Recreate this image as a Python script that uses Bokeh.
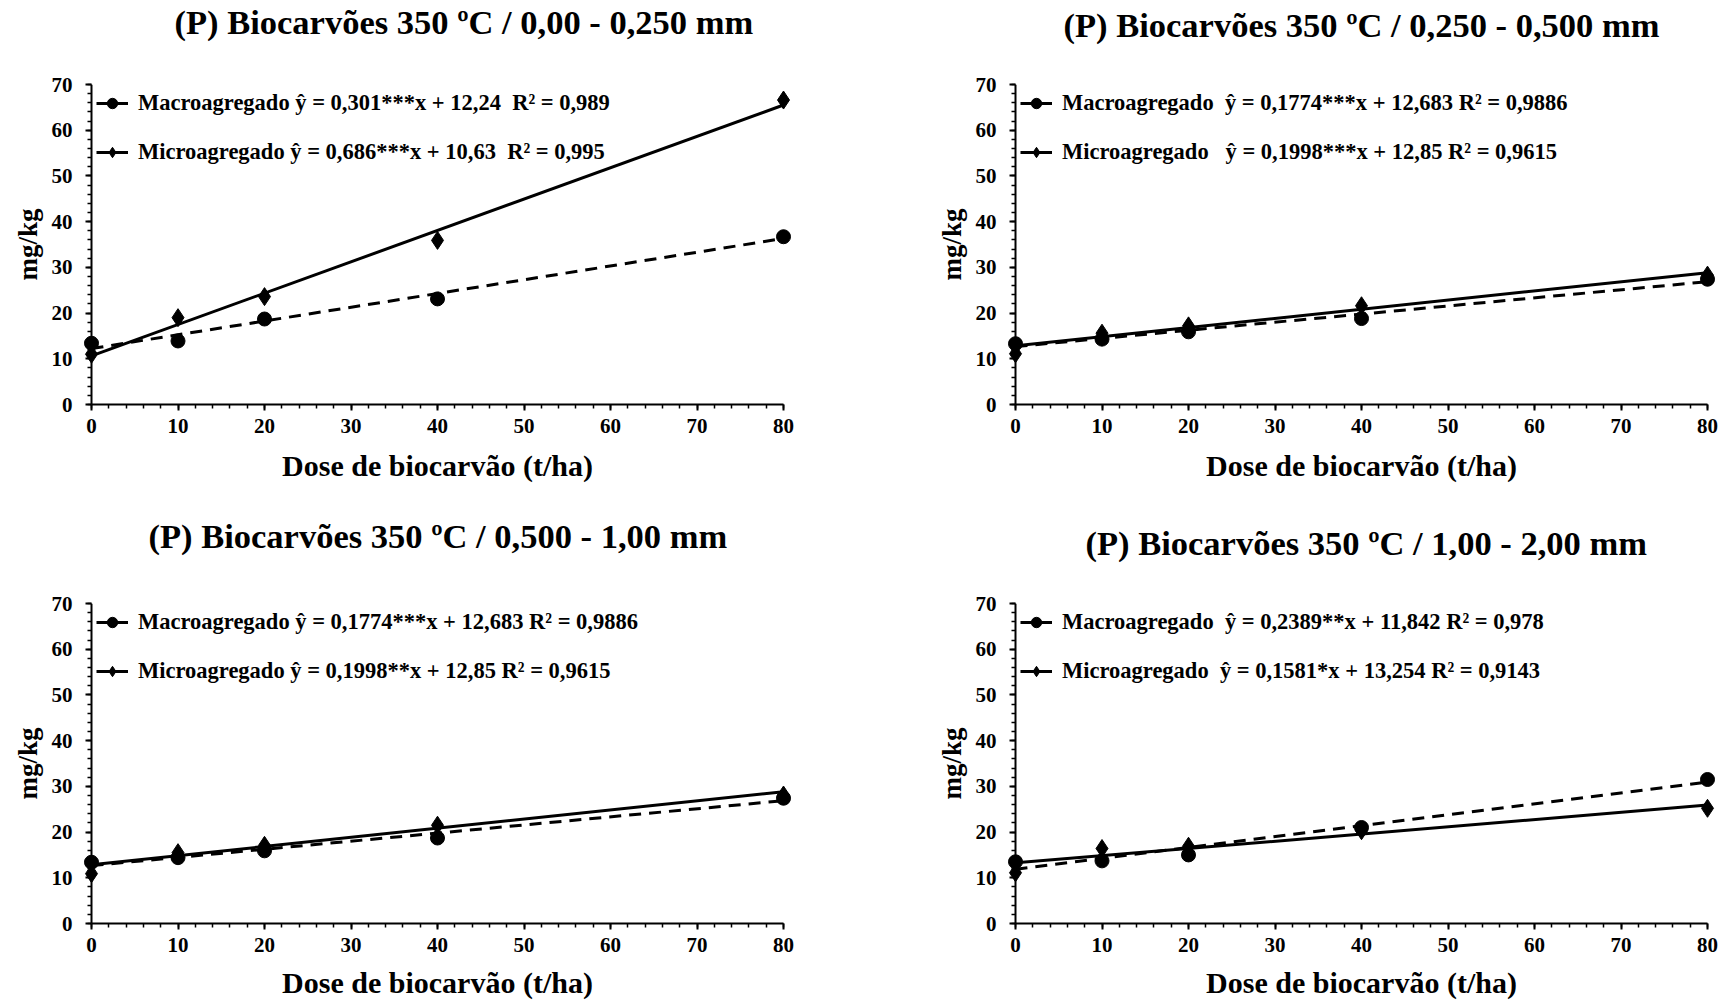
from bokeh.plotting import figure
from bokeh.models import Range1d, Legend, LegendItem, FixedTicker, Span, Title
from bokeh.layouts import column, row
from bokeh.embed import file_html
from bokeh.resources import INLINE

# ---------------- data ----------------
doses = [0, 10, 20, 40, 80]

titles = [
    "(P) Biocarvões 350 ºC / 0,00 - 0,250 mm",
    "(P) Biocarvões 350 ºC / 0,250 - 0,500 mm",
    "(P) Biocarvões 350 ºC / 0,500 - 1,00 mm",
    "(P) Biocarvões 350 ºC / 1,00 - 2,00 mm",
]

macro_000_025 = [13.4, 13.9, 18.7, 23.1, 36.7]
micro_000_025 = [11.0, 19.0, 23.6, 35.9, 66.6]
macro_025_050 = [13.3, 14.3, 15.9, 18.8, 27.4]
micro_025_050 = [11.1, 15.6, 17.2, 21.6, 28.3]
macro_050_100 = [13.4, 14.4, 15.9, 18.7, 27.4]
micro_050_100 = [10.9, 15.5, 17.1, 21.5, 28.1]
macro_100_200 = [13.5, 13.7, 15.0, 21.0, 31.5]
micro_100_200 = [11.1, 16.4, 16.9, 20.3, 25.2]

# regression coefficients (slope, intercept) from the legend equations
macro_slope = [0.301, 0.1774, 0.1774, 0.2389]
macro_intercept = [12.24, 12.683, 12.683, 11.842]
micro_slope = [0.686, 0.1998, 0.1998, 0.1581]
micro_intercept = [10.63, 12.85, 12.85, 13.254]

NB = "\u00a0"
macro_labels = [
    "Macroagregado ŷ = 0,301***x + 12,24" + NB * 2 + "R² = 0,989",
    "Macroagregado" + NB * 2 + "ŷ = 0,1774***x + 12,683 R² = 0,9886",
    "Macroagregado ŷ = 0,1774***x + 12,683 R² = 0,9886",
    "Macroagregado" + NB * 2 + "ŷ = 0,2389**x + 11,842 R² = 0,978",
]
micro_labels = [
    "Microagregado ŷ = 0,686***x + 10,63" + NB * 2 + "R² = 0,995",
    "Microagregado" + NB * 3 + "ŷ = 0,1998***x + 12,85 R² = 0,9615",
    "Microagregado ŷ = 0,1998**x + 12,85 R² = 0,9615",
    "Microagregado" + NB * 2 + "ŷ = 0,1581*x + 13,254 R² = 0,9143",
]

series_macro = [macro_000_025, macro_025_050, macro_050_100, macro_100_200]
series_micro = [micro_000_025, micro_025_050, micro_050_100, micro_100_200]

x_ticks = [0, 10, 20, 30, 40, 50, 60, 70, 80]
y_ticks = [0, 10, 20, 30, 40, 50, 60, 70]

FONT = "Liberation Serif"
FRAME_W, FRAME_H = 710, 320
PAD_PX = 9                      # gap between frame edge and the x = 0 axis
UNIT_PX = (FRAME_W - 2 * PAD_PX) / 80.0
PAD = PAD_PX / UNIT_PX

# title placement: left offset from frame edge, and height of the blank
# spacer between the title and the frame, in px
title_offset = [92, 57, 66, 79]
spacer_standoff = [31, 28, 36, 29]


def make_panel(i, width, height, left, top, xlabel_standoff):
    right = width - left - FRAME_W
    bottom = height - top - FRAME_H
    p = figure(width=width, height=height, output_backend="svg", toolbar_location=None,
               x_range=Range1d(-PAD, 80 + PAD), y_range=Range1d(0, 70),
               min_border_left=left, min_border_right=right,
               min_border_top=top, min_border_bottom=bottom)
    p.title_location = None
    p.outline_line_color = None
    p.xgrid.visible = False
    p.ygrid.visible = False
    p.background_fill_color = "white"
    p.border_fill_color = "white"

    # blank spacer next to the frame, then the real title above it
    p.add_layout(Title(text=" ", text_font_size="10px", standoff=spacer_standoff[i]), "above")
    p.add_layout(Title(text=titles[i], text_font=FONT, text_font_style="bold",
                       text_font_size="34.5px", text_color="black", align="left",
                       offset=title_offset[i], standoff=0), "above")

    xa = p.xaxis[0]
    ya = p.yaxis[0]
    xa.ticker = FixedTicker(ticks=x_ticks, minor_ticks=list(range(0, 81, 2)))
    ya.ticker = FixedTicker(ticks=y_ticks, minor_ticks=list(range(0, 71, 2)))
    xa.bounds = (0, 80)
    xa.axis_label = "Dose de biocarvão (t/ha)"
    ya.axis_label = "mg/kg"
    for ax in (xa, ya):
        ax.axis_line_color = "black"
        ax.axis_line_width = 2
        ax.major_tick_line_color = "black"
        ax.major_tick_line_width = 2
        ax.minor_tick_line_color = "black"
        ax.minor_tick_line_width = 1.5
        ax.major_label_text_font = FONT
        ax.major_label_text_font_style = "bold"
        ax.major_label_text_font_size = "21px"
        ax.major_label_text_color = "black"
        ax.axis_label_text_font = FONT
        ax.axis_label_text_font_style = "bold"
        ax.axis_label_text_color = "black"
    xa.axis_label_text_font_size = "30px"
    ya.axis_label_text_font_size = "27px"
    xa.major_tick_out = 6
    xa.major_tick_in = 0
    xa.minor_tick_out = 4
    xa.minor_tick_in = 0
    xa.major_label_standoff = 8
    xa.axis_label_standoff = xlabel_standoff

    # y axis drawn at x = 0 (inside the frame padding): line as a Span,
    # ticks shifted inward so that they end at x = 0
    ya.axis_line_color = None
    ya.major_tick_in = PAD_PX
    ya.major_tick_out = 6 - PAD_PX
    ya.minor_tick_in = PAD_PX
    ya.minor_tick_out = 4 - PAD_PX
    ya.major_label_standoff = 13
    ya.axis_label_standoff = 6
    p.add_layout(Span(location=0, dimension="height", line_color="black", line_width=2))

    x_fit = [min(doses), max(doses)]
    macro_fit = [macro_slope[i] * x + macro_intercept[i] for x in x_fit]
    micro_fit = [micro_slope[i] * x + micro_intercept[i] for x in x_fit]

    r_ma_line = p.line(x_fit, macro_fit, line_color="black", line_width=3, line_dash="12 8")
    r_mi_line = p.line(x_fit, micro_fit, line_color="black", line_width=3)
    r_ma_pts = p.scatter(doses, series_macro[i], marker="circle", size=14,
                         fill_color="black", line_color="black")
    r_mi_pts = p.scatter(doses, series_micro[i], marker="diamond", size=18,
                         fill_color="black", line_color="black")

    legend = Legend(items=[
        LegendItem(label=macro_labels[i], renderers=[r_ma_line, r_ma_pts]),
        LegendItem(label=micro_labels[i], renderers=[r_mi_line, r_mi_pts]),
    ], location=(14, 239))
    legend.margin = 0
    legend.padding = 0
    legend.spacing = 23
    legend.glyph_width = 32
    legend.glyph_height = 26
    legend.label_height = 26
    legend.label_standoff = 10
    legend.label_text_font = FONT
    legend.label_text_font_style = "bold"
    legend.label_text_font_size = "22.5px"
    legend.label_text_color = "black"
    legend.border_line_color = None
    legend.background_fill_alpha = 0
    p.add_layout(legend)
    return p


p1 = make_panel(0, 863, 500, 82, 84, 13)
p2 = make_panel(1, 863, 500, 143, 84, 13)
p3 = make_panel(2, 863, 501, 82, 103, 11)
p4 = make_panel(3, 863, 501, 143, 103, 11)

layout = column(row(p1, p2), row(p3, p4))
open("out.html", "w").write(file_html(layout, INLINE))
